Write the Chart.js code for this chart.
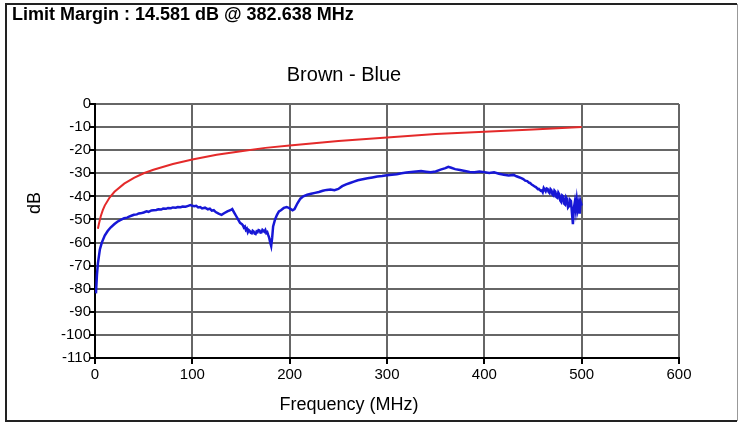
<!DOCTYPE html>
<html>
<head>
<meta charset="utf-8">
<script src="https://cdn.jsdelivr.net/npm/chart.js@4/dist/chart.umd.min.js"></script>
<style>
  html, body { margin: 0; padding: 0; background: #fff; }
  canvas { display: block; }
</style>
</head>
<body>
<canvas id="chart" width="739" height="426"></canvas>
<script>
// Cable test plot: limit line (red) vs measured pair (blue).
const headerText = "Limit Margin : 14.581 dB @ 382.638 MHz"
const chartTitle = "Brown - Blue"
const xTitle     = "Frequency (MHz)"
const yTitle     = "dB"

// limit curve
const limitFreq = [3, 4, 6, 8, 10, 15, 20, 30, 40, 50, 60, 80, 100, 125, 150, 175, 200, 250, 300, 350, 400, 450, 500]
const limitDb   = [-54, -52, -48.5, -46, -44, -40.5, -38, -34.5, -32, -30, -28.5, -26, -24, -22, -20.5, -19, -18, -16, -14.5, -13, -12, -11, -10]

const pairFreq = [
  1, 2, 3, 4, 5, 7, 10, 13, 16, 20, 23, 25, 28, 30, 33, 35, 38, 40, 43, 45,
  48, 50, 53, 55, 58, 60, 63, 65, 68, 70, 73, 75, 78, 80, 83, 85, 88, 90, 93, 95,
  98, 100, 102, 104, 106, 108, 110, 113, 116, 118, 120, 122, 124, 127, 130, 133, 136, 139, 141, 143,
  145, 147, 149, 151, 152, 153, 154, 155, 156, 157, 158, 159, 160, 161, 162, 163, 164, 165, 166, 167,
  168, 169, 170, 171, 172, 173, 174, 175, 176, 177, 178, 179, 180, 181, 182,
  183, 185, 187, 189, 191, 194, 197, 200, 203, 205, 208, 211, 214, 218, 222, 226, 230, 234, 238, 242,
  246, 250, 254, 258, 262, 266, 270, 275, 280, 285, 290, 295, 300, 305, 310, 315, 320, 325, 330, 335,
  340, 345, 350, 355, 360, 363, 366, 370, 375, 380, 385, 390, 395, 400, 405, 410, 415, 420, 425, 430,
  433, 435, 438, 440, 442, 444, 446, 447, 449, 450, 452, 453, 455, 456, 458, 459, 460, 461, 462, 463,
  464, 465, 466, 467, 468, 469, 470, 471, 472, 473, 474, 475, 476, 477, 478, 479, 480, 481, 482, 483,
  484, 485, 486, 487, 488, 489, 490, 491, 492, 493, 494, 495, 496, 497, 498, 499, 500
]
const pairDb = [
  -82, -74, -69, -66, -63, -60, -57, -55, -53.5, -52, -51, -50.5, -49.9, -49.5, -49.2, -48.8, -48.3, -48, -47.8, -47.4,
  -47.2, -47, -46.5, -46.7, -46.1, -46, -45.9, -45.6, -45.7, -45.3, -45.4, -45, -45.1, -44.8, -44.9, -44.6, -44.7, -44.4, -44.5, -44.2,
  -43.8, -44.1, -44.3, -44.1, -44.8, -44.6, -45.2, -44.9, -45.6, -45.3, -46.2, -46, -46.8, -47.5, -48, -47.2, -46.5, -46, -45.5, -47,
  -48.5, -50, -51.5, -52, -52.6, -53.5, -53.1, -54.5, -54, -55.5, -54.6, -55, -55.8, -56, -54.9, -55.2, -56.1, -56.3, -55.2, -55.5,
  -54.6, -54.8, -55.7, -55.6, -54.5, -54.9, -55.3, -54.6, -55.9, -55.5, -56.8, -58, -60, -61.5, -58,
  -53, -50, -48, -46.5, -46, -45, -44.6, -45.2, -46, -45.5, -43, -41, -40, -39.3, -38.9, -38.5, -38.1, -37.6, -37.2, -37,
  -37.3, -36.8, -35.6, -34.8, -34.2, -33.6, -33, -32.6, -32.2, -31.8, -31.4, -31.2, -30.9, -30.6, -30.4, -30, -29.7, -29.4, -29.2, -29,
  -29.3, -29.6, -29.2, -28.4, -27.8, -27.2, -27.6, -28.2, -28.6, -29, -29.4, -29.6, -29.2, -29.5, -29.9, -29.6, -30.2, -30.6, -31, -30.7,
  -31.3, -31.6, -32.1, -32.5, -33.2, -33.4, -34.1, -34.2, -35, -35.2, -35.8, -36, -36.9, -36.8, -37.6, -37.4, -38.2, -36.4, -37.1, -37.8,
  -36.6, -36.8, -38.1, -38.6, -36.9, -37.4, -39.2, -39.6, -37.5, -38, -40.3, -40.6, -38.4, -39.2, -41.8, -42.4, -39.6, -40, -43.2, -43.6,
  -40.4, -41.2, -44.8, -44.2, -41.5, -42, -47, -52, -45, -42.4, -46, -41.6, -45.5, -43, -47.5, -42.5, -44
]

const xTicks = { min: 0, max: 600, step: 100 }
const yTicks = { min: -110, max: 0, step: 10 }

const FONT = "'Liberation Sans', Arial, sans-serif"

const toPoints = (xs, ys) => xs.map((x, i) => ({ x, y: ys[i] }))

// outer frame + header/title/axis titles
const decorations = {
  id: "decorations",
  beforeDraw(chart) {
    const { ctx, width, height } = chart
    ctx.save()
    ctx.fillStyle = "#fff"
    ctx.fillRect(0, 0, width, height)
    ctx.restore()
  },
  afterDraw(chart) {
    const { ctx } = chart
    ctx.save()
    // frame
    ctx.strokeStyle = "#222"
    ctx.lineWidth = 2
    ctx.beginPath()
    ctx.moveTo(737, 4); ctx.lineTo(6, 4); ctx.lineTo(6, 421); ctx.lineTo(737, 421)
    ctx.stroke()
    ctx.strokeStyle = "#999"
    ctx.lineWidth = 1
    ctx.beginPath()
    ctx.moveTo(737.5, 4); ctx.lineTo(737.5, 421)
    ctx.stroke()

    ctx.fillStyle = "#000"
    ctx.textBaseline = "middle"

    ctx.font = `bold 18px ${FONT}`
    ctx.textAlign = "left"
    ctx.fillText(headerText, 12, 15)

    ctx.font = `20px ${FONT}`
    ctx.textAlign = "center"
    ctx.fillText(chartTitle, 344, 75)

    ctx.font = `18px ${FONT}`
    ctx.fillText(xTitle, 349, 405)

    ctx.translate(35, 203)
    ctx.rotate(-Math.PI / 2)
    ctx.fillText(yTitle, 0, 0)
    ctx.restore()
  }
}

new Chart(document.getElementById("chart"), {
  type: "line",
  data: {
    datasets: [
      {
        label: "Pair",
        data: toPoints(pairFreq, pairDb),
        borderColor: "#1717d6",
        borderWidth: 2.5,
        pointRadius: 0,
        tension: 0,
      },
      {
        label: "Limit",
        data: toPoints(limitFreq, limitDb),
        borderColor: "#e42a2a",
        borderWidth: 2,
        pointRadius: 0,
        tension: 0,
      }
    ]
  },
  options: {
    responsive: false,
    animation: false,
    events: [],
    layout: { padding: { top: 104, left: 0, right: 60, bottom: 0 } },
    plugins: {
      legend: { display: false },
      title: { display: false },
      tooltip: { enabled: false },
    },
    scales: {
      x: {
        type: "linear",
        min: xTicks.min,
        max: xTicks.max,
        afterFit: (s) => { s.height = 68 },
        grid: { color: "#666", lineWidth: 2, tickLength: 6, tickColor: "#000", tickWidth: 2 },
        border: { color: "#000", width: 2 },
        ticks: { stepSize: xTicks.step, autoSkip: false, maxRotation: 0, color: "#000", padding: 2, font: { family: FONT, size: 15 } },
      },
      y: {
        min: yTicks.min,
        max: yTicks.max,
        afterFit: (s) => { s.width = 95 },
        grid: { color: "#666", lineWidth: 2, tickLength: 6, tickColor: "#000", tickWidth: 2 },
        border: { color: "#000", width: 2 },
        ticks: { stepSize: yTicks.step, autoSkip: false, color: "#000", padding: -2, font: { family: FONT, size: 15 } },
      }
    }
  },
  plugins: [decorations]
})
</script>
</body>
</html>
